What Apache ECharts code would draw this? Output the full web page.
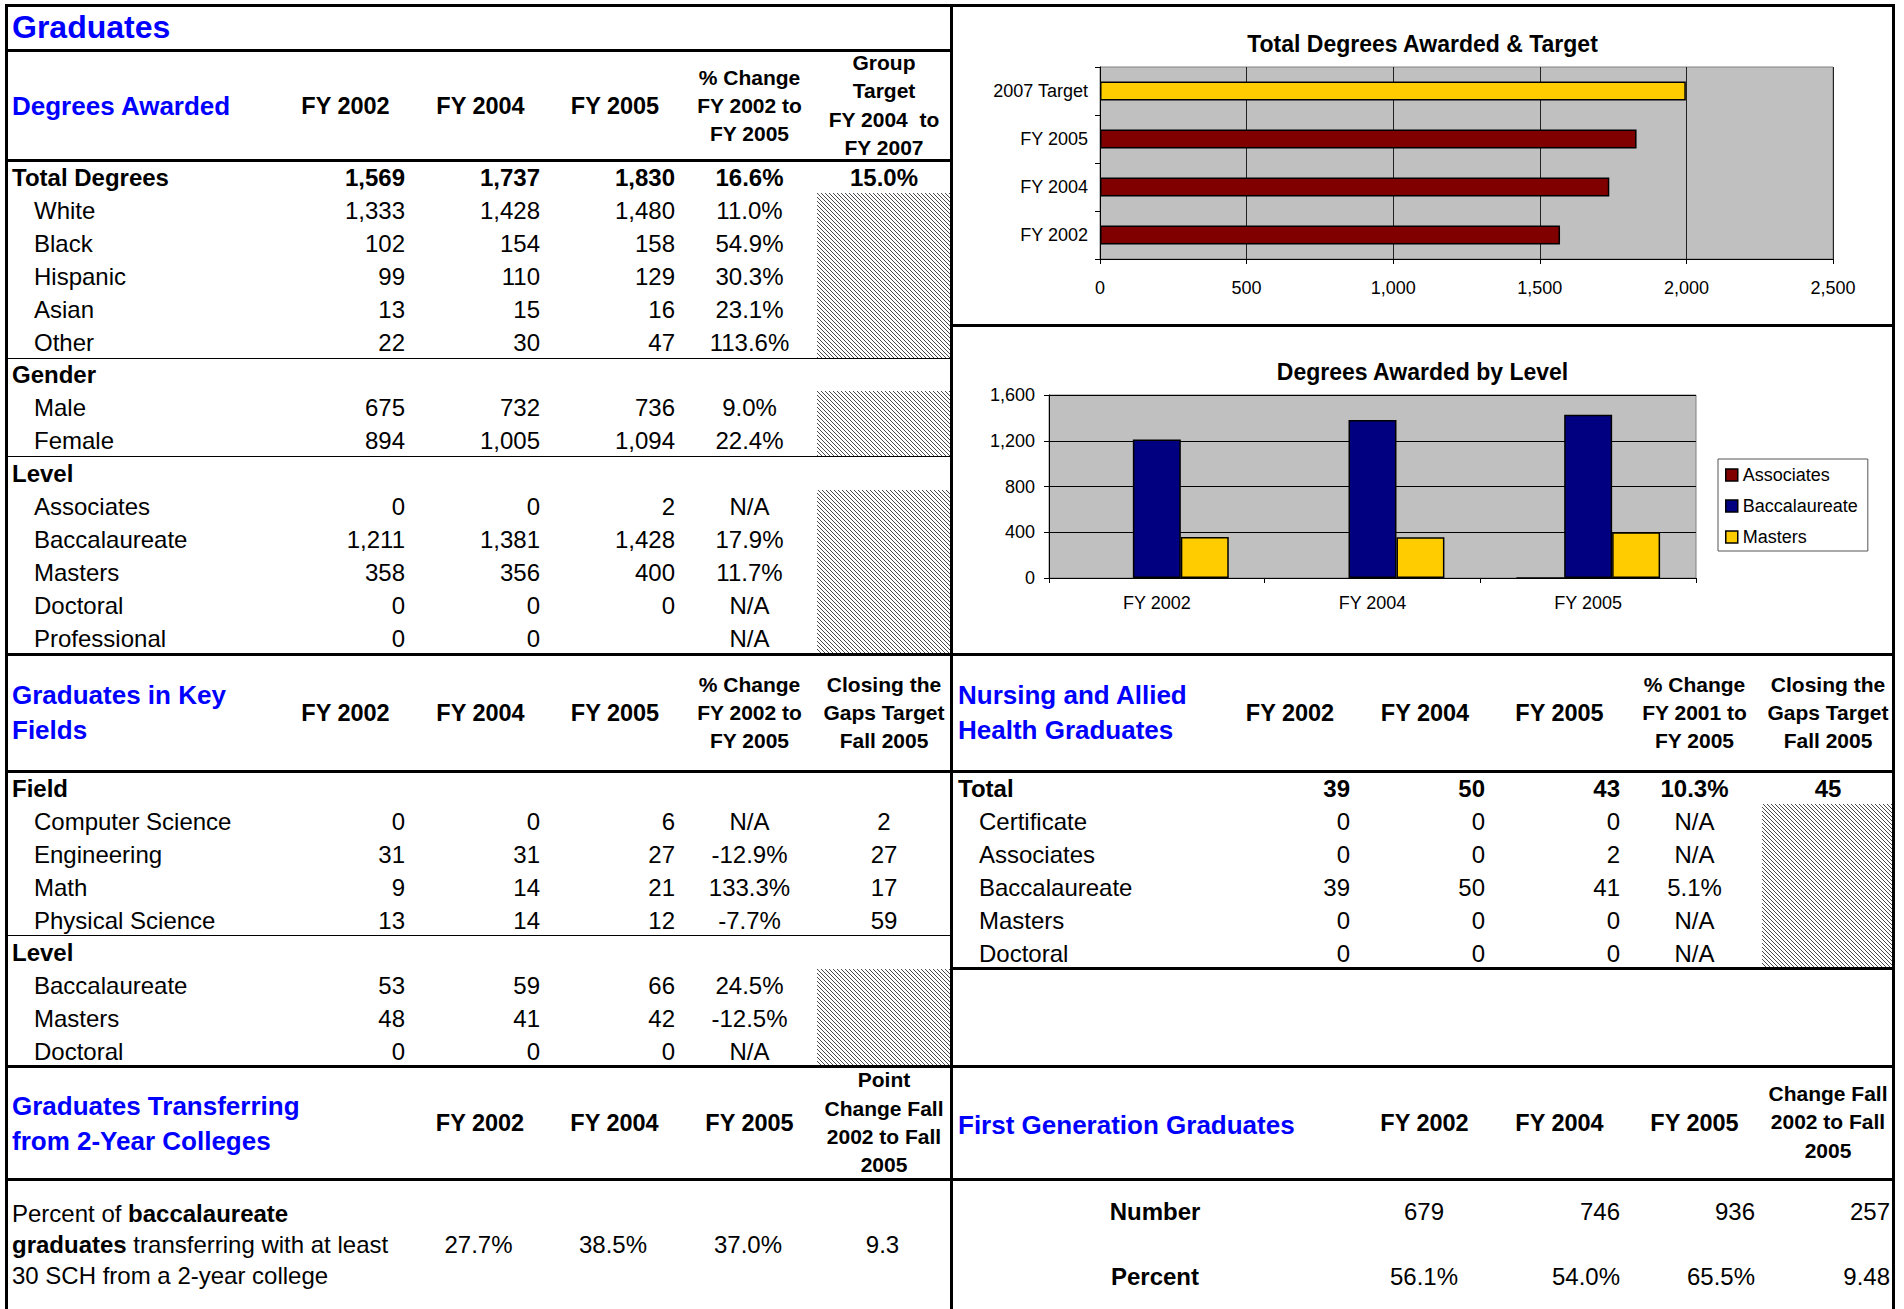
<!DOCTYPE html>
<html><head><meta charset="utf-8">
<script src="https://cdn.jsdelivr.net/npm/echarts@6.0.0/dist/echarts.min.js"></script>
<style>
html,body{margin:0;padding:0;background:#fff;width:1904px;height:1309px;overflow:hidden;}
#page{position:relative;width:1904px;height:1309px;font-family:"Liberation Sans",Arial,sans-serif;color:#000;}
.t{position:absolute;white-space:pre;height:40px;line-height:40px;}
.ln{position:absolute;background:#000;}
.hatch{position:absolute;background:repeating-linear-gradient(45deg,#4a4a4a 0 1.1px,#fff 1.1px 2.83px);}
.chart{position:absolute;}
</style></head><body><div id="page"></div>
<script>
// ---------------- DATA ----------------
const yearCols = ['FY 2002', 'FY 2004', 'FY 2005'];
const totalDegrees = [1569, 1737, 1830];
const totalChange = '16.6%';
const groupTarget = '15.0%';
const raceLabels = ['White', 'Black', 'Hispanic', 'Asian', 'Other'];
const race2002 = [1333, 102, 99, 13, 22];
const race2004 = [1428, 154, 110, 15, 30];
const race2005 = [1480, 158, 129, 16, 47];
const raceChange = ['11.0%', '54.9%', '30.3%', '23.1%', '113.6%'];
const genderLabels = ['Male', 'Female'];
const gender2002 = [675, 894];
const gender2004 = [732, 1005];
const gender2005 = [736, 1094];
const genderChange = ['9.0%', '22.4%'];
const levelLabels = ['Associates', 'Baccalaureate', 'Masters', 'Doctoral', 'Professional'];
const level2002 = [0, 1211, 358, 0, 0];
const level2004 = [0, 1381, 356, 0, 0];
const level2005 = [2, 1428, 400, 0, null];
const levelChange = ['N/A', '17.9%', '11.7%', 'N/A', 'N/A'];
const fieldLabels = ['Computer Science', 'Engineering', 'Math', 'Physical Science'];
const field2002 = [0, 31, 9, 13];
const field2004 = [0, 31, 14, 14];
const field2005 = [6, 27, 21, 12];
const fieldChange = ['N/A', '-12.9%', '133.3%', '-7.7%'];
const fieldTarget = [2, 27, 17, 59];
const kfLevelLabels = ['Baccalaureate', 'Masters', 'Doctoral'];
const kfLevel2002 = [53, 48, 0];
const kfLevel2004 = [59, 41, 0];
const kfLevel2005 = [66, 42, 0];
const kfLevelChange = ['24.5%', '-12.5%', 'N/A'];
const transferValues = ['27.7%', '38.5%', '37.0%', '9.3'];
const nursingTotal = [39, 50, 43];
const nursingTotalChange = '10.3%';
const nursingTarget = '45';
const nursingLabels = ['Certificate', 'Associates', 'Baccalaureate', 'Masters', 'Doctoral'];
const nursing2002 = [0, 0, 39, 0, 0];
const nursing2004 = [0, 0, 50, 0, 0];
const nursing2005 = [0, 2, 41, 0, 0];
const nursingChange = ['N/A', 'N/A', '5.1%', 'N/A', 'N/A'];
const firstGenNumber = [679, 746, 936, 257];
const firstGenPercent = ['56.1%', '54.0%', '65.5%', '9.48'];
// chart data
const totalChartCats = ['FY 2002', 'FY 2004', 'FY 2005', '2007 Target'];
const totalChartVals = [1569, 1737, 1830, 1998];
const levelChartCats = ['FY 2002', 'FY 2004', 'FY 2005'];
const levelSeriesNames = ['Associates', 'Baccalaureate', 'Masters'];
const assocVals = [0, 0, 2];
const baccVals = [1211, 1381, 1428];
const mastersVals = [358, 356, 400];

// ---------------- STYLES ----------------
const FONT = '"Liberation Sans", Arial, sans-serif';
const BLUE = '#0000FF';
const MAROON = '#800000', NAVY = '#000080', GOLD = '#FFCC00';
const totalBarColors = [MAROON, MAROON, MAROON, GOLD];

// ---------------- HELPERS ----------------
const page = document.getElementById('page');
const fmt = v => (v === null || v === undefined) ? '' : Number(v).toLocaleString('en-US');
function T(html, x, y, align, size, opt) {
  opt = opt || {};
  const d = document.createElement('div');
  d.className = 't';
  d.innerHTML = html;
  d.style.fontSize = size + 'px';
  d.style.top = (y - 20) + 'px';
  if (opt.bold) d.style.fontWeight = 'bold';
  if (opt.color) d.style.color = opt.color;
  if (align === 'left') d.style.left = x + 'px';
  else if (align === 'right') d.style.right = (1904 - x) + 'px';
  else { d.style.left = (x - 150) + 'px'; d.style.width = '300px'; d.style.textAlign = 'center'; }
  page.appendChild(d);
}
function L(x, y, w, h) {
  const d = document.createElement('div'); d.className = 'ln';
  Object.assign(d.style, {left: x + 'px', top: y + 'px', width: w + 'px', height: h + 'px'});
  page.appendChild(d);
}
function H(x, y, w, h) {
  const d = document.createElement('div'); d.className = 'hatch';
  Object.assign(d.style, {left: x + 'px', top: y + 'px', width: w + 'px', height: h + 'px'});
  page.appendChild(d);
}
function block(lines, x, ys, size) { lines.forEach((s, i) => T(s, x, ys[i], 'center', size, {bold: true})); }

// ---------------- LINES & HATCH ----------------
H(817, 193, 133, 165); H(817, 391, 133, 65); H(817, 490, 133, 164); H(817, 969, 133, 97); H(1762, 804, 130, 164);
L(5, 4, 1890, 3); L(5, 4, 3, 1305); L(1892, 4, 3, 1305); L(950, 4, 3, 1305);
L(5, 49, 947, 3); L(5, 159, 947, 3); L(5, 358, 947, 1); L(5, 456, 947, 1);
L(950, 324, 945, 3); L(5, 653, 1890, 3); L(5, 770, 1890, 3); L(5, 935, 947, 1);
L(950, 967, 945, 3); L(5, 1065, 1890, 3); L(5, 1178, 1890, 3);

// ---------------- LEFT: DEGREES AWARDED ----------------
const LX = 12, IX = 34;
const leftRight = [405, 540, 675], leftPct = 749.5, leftTgt = 884;
const leftHead = [345.5, 480.5, 615];
T('Graduates', LX, 27, 'left', 32, {bold: true, color: BLUE});
T('Degrees Awarded', LX, 105.6, 'left', 26, {bold: true, color: BLUE});
yearCols.forEach((c, i) => T(c, leftHead[i], 105.6, 'center', 23.5, {bold: true}));
block(['% Change', 'FY 2002 to', 'FY 2005'], leftPct, [77.7, 105.6, 133.6], 21);
block(['Group', 'Target', 'FY 2004  to', 'FY 2007'], leftTgt, [63, 91, 120, 148], 21);
const ry = (start, i) => start + 16.5 + i * 33;
function row(label, x, y, vals, pct, tgt, bold, rights, pctX, tgtX) {
  T(label, x, y, 'left', 24, {bold});
  vals.forEach((v, i) => T(fmt(v), rights[i], y, 'right', 24, {bold}));
  if (pct !== undefined) T(pct, pctX, y, 'center', 24, {bold});
  if (tgt !== undefined) T(String(tgt), tgtX, y, 'center', 24, {bold});
}
row('Total Degrees', LX, ry(161, 0), totalDegrees, totalChange, groupTarget, true, leftRight, leftPct, leftTgt);
raceLabels.forEach((l, i) => row(l, IX, ry(161, i + 1), [race2002[i], race2004[i], race2005[i]], raceChange[i], undefined, false, leftRight, leftPct, leftTgt));
T('Gender', LX, ry(358, 0), 'left', 24, {bold: true});
genderLabels.forEach((l, i) => row(l, IX, ry(358, i + 1), [gender2002[i], gender2004[i], gender2005[i]], genderChange[i], undefined, false, leftRight, leftPct, leftTgt));
T('Level', LX, ry(457, 0), 'left', 24, {bold: true});
levelLabels.forEach((l, i) => row(l, IX, ry(457, i + 1), [level2002[i], level2004[i], level2005[i]], levelChange[i], undefined, false, leftRight, leftPct, leftTgt));

// ---------------- LEFT: KEY FIELDS ----------------
T('Graduates in Key', LX, 695, 'left', 26, {bold: true, color: BLUE});
T('Fields', LX, 730, 'left', 26, {bold: true, color: BLUE});
yearCols.forEach((c, i) => T(c, leftHead[i], 713, 'center', 23.5, {bold: true}));
block(['% Change', 'FY 2002 to', 'FY 2005'], leftPct, [685, 713, 741], 21);
block(['Closing the', 'Gaps Target', 'Fall 2005'], leftTgt, [685, 713, 741], 21);
T('Field', LX, ry(772, 0), 'left', 24, {bold: true});
fieldLabels.forEach((l, i) => row(l, IX, ry(772, i + 1), [field2002[i], field2004[i], field2005[i]], fieldChange[i], fieldTarget[i], false, leftRight, leftPct, leftTgt));
T('Level', LX, ry(936, 0), 'left', 24, {bold: true});
kfLevelLabels.forEach((l, i) => row(l, IX, ry(936, i + 1), [kfLevel2002[i], kfLevel2004[i], kfLevel2005[i]], kfLevelChange[i], undefined, false, leftRight, leftPct, leftTgt));

// ---------------- LEFT: TRANSFER ----------------
T('Graduates Transferring', LX, 1106, 'left', 26, {bold: true, color: BLUE});
T('from 2-Year Colleges', LX, 1141, 'left', 26, {bold: true, color: BLUE});
const trCenters = [480, 614.5, 749.5, 884];
yearCols.forEach((c, i) => T(c, trCenters[i], 1123, 'center', 23.5, {bold: true}));
block(['Point', 'Change Fall', '2002 to Fall', '2005'], leftTgt, [1080, 1109, 1137, 1165], 21);
T('Percent of <b>baccalaureate</b>', LX, 1214, 'left', 24);
T('<b>graduates</b> transferring with at least', LX, 1245, 'left', 24);
T('30 SCH from a 2-year college', LX, 1276, 'left', 24);
transferValues.forEach((v, i) => T(v, trCenters[i] - 1.5, 1245, 'center', 24));

// ---------------- RIGHT: NURSING ----------------
const RX = 958, RIX = 979;
const rightRight = [1350, 1485, 1620], rightPct = 1694.5, rightTgt = 1828;
const rightHead = [1290, 1425, 1559.5];
T('Nursing and Allied', RX, 695, 'left', 26, {bold: true, color: BLUE});
T('Health Graduates', RX, 730, 'left', 26, {bold: true, color: BLUE});
yearCols.forEach((c, i) => T(c, rightHead[i], 713, 'center', 23.5, {bold: true}));
block(['% Change', 'FY 2001 to', 'FY 2005'], rightPct, [685, 713, 741], 21);
block(['Closing the', 'Gaps Target', 'Fall 2005'], rightTgt, [685, 713, 741], 21);
row('Total', RX, ry(772, 0), nursingTotal, nursingTotalChange, nursingTarget, true, rightRight, rightPct, rightTgt);
nursingLabels.forEach((l, i) => row(l, RIX, ry(772, i + 1), [nursing2002[i], nursing2004[i], nursing2005[i]], nursingChange[i], undefined, false, rightRight, rightPct, rightTgt));

// ---------------- RIGHT: FIRST GENERATION ----------------
T('First Generation Graduates', RX, 1124.5, 'left', 26, {bold: true, color: BLUE});
const fgHead = [1424.5, 1559.5, 1694.5];
yearCols.forEach((c, i) => T(c, fgHead[i], 1123, 'center', 23.5, {bold: true}));
block(['Change Fall', '2002 to Fall', '2005'], rightTgt, [1094, 1122, 1151], 21);
T('Number', 1155, 1212, 'center', 24, {bold: true});
T('Percent', 1155, 1277, 'center', 24, {bold: true});
const fgRights = [null, 1620, 1755, 1890];
firstGenNumber.forEach((v, i) => i === 0 ? T(fmt(v), 1424, 1212, 'center', 24) : T(fmt(v), fgRights[i], 1212, 'right', 24));
firstGenPercent.forEach((v, i) => i === 0 ? T(v, 1424, 1277, 'center', 24) : T(v, fgRights[i], 1277, 'right', 24));

// ---------------- CHARTS ----------------
function mkDiv(x, y, w, h) {
  const d = document.createElement('div'); d.className = 'chart';
  Object.assign(d.style, {left: x + 'px', top: y + 'px', width: w + 'px', height: h + 'px'});
  page.appendChild(d); return d;
}
const numFmt = v => Number(v).toLocaleString('en-US');
const axisLbl = {fontSize: 18, color: '#000', fontFamily: FONT};

const c1 = echarts.init(mkDiv(953, 7, 939, 317), null, {renderer: 'svg'});
c1.setOption({
  animation: false,
  title: {text: 'Total Degrees Awarded & Target', left: 'center', top: 25, padding: 0,
    textStyle: {fontSize: 23, fontWeight: 'bold', color: '#000', fontFamily: FONT, lineHeight: 23}},
  grid: {left: 147, top: 60, width: 733, height: 192, show: true, backgroundColor: '#C0C0C0', borderColor: '#808080', borderWidth: 1},
  xAxis: {type: 'value', min: 0, max: 2500, interval: 500,
    axisLine: {show: true, lineStyle: {color: '#000'}},
    axisTick: {show: true, length: 5, lineStyle: {color: '#000'}},
    splitLine: {show: true, lineStyle: {color: '#222', width: 1}},
    axisLabel: Object.assign({margin: 20, formatter: numFmt}, axisLbl)},
  yAxis: {type: 'category', data: totalChartCats,
    axisLine: {show: true, lineStyle: {color: '#000'}},
    axisTick: {show: true, length: 5, lineStyle: {color: '#000'}},
    axisLabel: Object.assign({margin: 12}, axisLbl)},
  series: [{type: 'bar', barWidth: '40%',
    data: totalChartVals.map((v, i) => ({value: v, itemStyle: {color: totalBarColors[i]}})),
    itemStyle: {borderColor: '#000', borderWidth: 1.5}}]
});

const c2 = echarts.init(mkDiv(953, 327, 939, 326), null, {renderer: 'svg'});
const levelColors = [MAROON, NAVY, GOLD];
const levelData = [assocVals, baccVals, mastersVals];
c2.setOption({
  animation: false,
  title: {text: 'Degrees Awarded by Level', left: 'center', top: 33, padding: 0,
    textStyle: {fontSize: 23, fontWeight: 'bold', color: '#000', fontFamily: FONT, lineHeight: 23}},
  grid: {left: 96, top: 68, width: 647, height: 183, show: true, backgroundColor: '#C0C0C0', borderColor: '#808080', borderWidth: 1},
  legend: {orient: 'vertical', left: 765, top: 132, padding: [7, 10, 5, 7], itemGap: 13, itemWidth: 12, itemHeight: 12,
    icon: 'rect', borderColor: '#555', borderWidth: 1, backgroundColor: '#fff',
    itemStyle: {borderColor: '#000', borderWidth: 1.5},
    textStyle: {fontSize: 18, color: '#000', fontFamily: FONT, lineHeight: 18}},
  xAxis: {type: 'category', data: levelChartCats,
    axisLine: {show: true, lineStyle: {color: '#000'}},
    axisTick: {show: true, length: 5, lineStyle: {color: '#000'}},
    axisLabel: Object.assign({margin: 16}, axisLbl)},
  yAxis: {type: 'value', min: 0, max: 1600, interval: 400,
    axisLine: {show: true, lineStyle: {color: '#000'}},
    axisTick: {show: true, length: 5, lineStyle: {color: '#000'}},
    splitLine: {show: true, lineStyle: {color: '#000', width: 1}},
    axisLabel: Object.assign({margin: 14, formatter: numFmt}, axisLbl)},
  series: levelSeriesNames.map((n, i) => ({
    name: n, type: 'bar', barGap: '0%', barCategoryGap: '33.3%',
    data: levelData[i].map(v => v === 0 ? {value: v, itemStyle: {borderWidth: 0}} : v),
    itemStyle: {color: levelColors[i], borderColor: '#000', borderWidth: 1.5}
  }))
});
</script></body></html>
